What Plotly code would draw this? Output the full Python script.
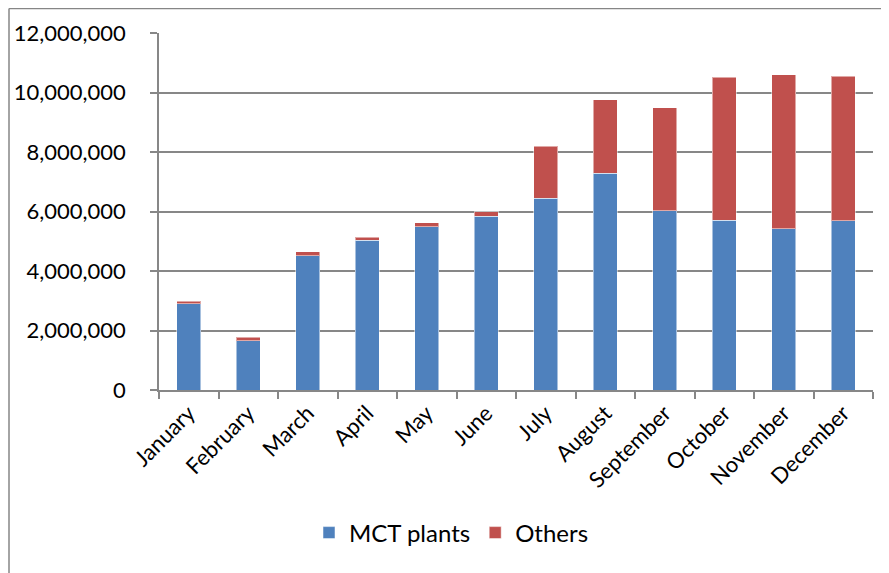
import plotly.graph_objects as go

months = ["January", "February", "March", "April", "May", "June", "July",
          "August", "September", "October", "November", "December"]
mct_plants = [2900000, 1660000, 4510000, 5030000, 5490000, 5840000, 6450000,
              7280000, 6030000, 5700000, 5420000, 5690000]
others = [90000, 120000, 130000, 110000, 130000, 160000, 1750000,
          2470000, 3460000, 4810000, 5170000, 4860000]
y_ticks = [0, 2000000, 4000000, 6000000, 8000000, 10000000, 12000000]

FONT = "Lato, Calibri, sans-serif"
GRID = "#878787"

# page body has an 8px margin, so the figure is offset by (8, 8)
OFF = 8
PL, PR, PT, PB = 159 - OFF, 873 - OFF, 33 - OFF, 390 - OFF
W, H = 889 - OFF, 573 - OFF
PW, PH = PR - PL, PB - PT

fig = go.Figure()
fig.add_bar(x=months, y=mct_plants, name="MCT plants",
            marker=dict(color="#4F81BD", line=dict(color="rgba(255,255,255,0.5)", width=1)))
fig.add_bar(x=months, y=others, name="Others",
            marker=dict(color="#C0504D", line=dict(color="rgba(255,255,255,0.5)", width=1)))

fig.update_layout(
    barmode="stack",
    bargap=0.6,
    width=W, height=H,
    margin=dict(l=PL, r=W - PR, t=PT, b=H - PB, autoexpand=False),
    paper_bgcolor="white", plot_bgcolor="white",
    font=dict(family=FONT, size=22, color="#000000"),
    legend=dict(orientation="h", x=(309 - 159) / PW, xanchor="left",
                y=(390 - 533) / PH, yanchor="middle",
                font=dict(size=24), itemwidth=30, traceorder="normal"),
    showlegend=True,
)
fig.update_xaxes(
    automargin=False,
    tickangle=-45, showgrid=False, showline=True, linecolor=GRID, linewidth=1.5,
    ticks="outside", tickson="boundaries", ticklen=7, tickcolor=GRID, tickwidth=1.5,
    tickfont=dict(size=22),
)
fig.update_yaxes(
    automargin=False,
    range=[0, 12000000], tickvals=y_ticks, tickformat=",d",
    showgrid=True, gridcolor=GRID, gridwidth=1.5,
    showline=True, linecolor=GRID, linewidth=1.5,
    ticks="outside", ticklen=7, tickcolor=GRID, tickwidth=1.5,
    ticklabelstandoff=20, zeroline=False, tickfont=dict(size=22),
)

left = (1 - PL) / PW
top = 1 + (PT - 0.5) / PH
fig.add_shape(type="line", xref="paper", yref="paper", x0=left, x1=left, y0=top, y1=-0.7,
              line=dict(color="#868686", width=1.5))
fig.add_shape(type="line", xref="paper", yref="paper", x0=left, x1=1.1, y0=top, y1=top,
              line=dict(color="#868686", width=1.5))

fig.write_html("out.html")
